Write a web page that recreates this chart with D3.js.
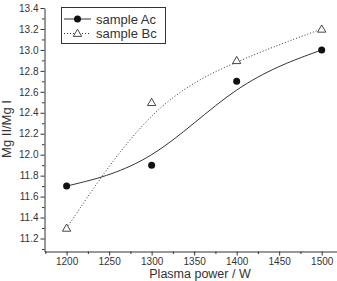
<!DOCTYPE html>
<html><head><meta charset="utf-8">
<script src="https://cdn.jsdelivr.net/npm/d3@7"></script>
<style>
body{margin:0;background:#fff;}
svg{display:block;}
text{font-family:"Liberation Sans",Arial,sans-serif;fill:#333;}
</style></head>
<body>
<svg id="c" width="337" height="281"></svg>
<script>
const power = [1200, 1300, 1400, 1500];
const sampleAc = [11.7, 11.9, 12.7, 13.0];
const sampleBc = [11.3, 12.5, 12.9, 13.2];
const xTicks = [1200, 1250, 1300, 1350, 1400, 1450, 1500];
const yTicks = [11.2, 11.4, 11.6, 11.8, 12.0, 12.2, 12.4, 12.6, 12.8, 13.0, 13.2, 13.4];
const seriesNames = ["sample Ac", "sample Bc"];

const svg = d3.select("#c");
const x = d3.scaleLinear().domain([1174, 1518]).range([44.5, 337]);
const y = d3.scaleLinear().domain([11.076, 13.4]).range([251.5, 8]);
const ink = "#333";

// x axis
const xMinor = d3.range(1175, 1525, 25).filter(v => v % 50 !== 0);
svg.append("g").attr("transform", "translate(0,251.5)")
  .call(d3.axisBottom(x).tickValues(xMinor).tickSize(2.5).tickFormat("").tickSizeOuter(0))
  .call(g => g.select(".domain").remove())
  .call(g => g.selectAll("line").attr("stroke", ink));
svg.append("g").attr("transform", "translate(0,251.5)")
  .call(d3.axisBottom(x).tickValues(xTicks).tickSize(4).tickPadding(2).tickFormat(d3.format("d")).tickSizeOuter(0))
  .call(g => g.select(".domain").attr("stroke", ink))
  .call(g => g.selectAll("line").attr("stroke", ink))
  .call(g => g.selectAll("text").attr("font-size", 10).attr("font-family", "Liberation Sans, Arial, sans-serif").attr("fill", ink));

// y axis
const yMinor = d3.range(11.1, 13.35, 0.2).map(v => +v.toFixed(1));
svg.append("g").attr("transform", "translate(44.5,0)")
  .call(d3.axisLeft(y).tickValues(yMinor).tickSize(2.5).tickFormat("").tickSizeOuter(0))
  .call(g => g.select(".domain").remove())
  .call(g => g.selectAll("line").attr("stroke", ink));
svg.append("g").attr("transform", "translate(44.5,0)")
  .call(d3.axisLeft(y).tickValues(yTicks).tickSize(4).tickPadding(2).tickFormat(d3.format(".1f")).tickSizeOuter(0))
  .call(g => g.select(".domain").attr("stroke", ink))
  .call(g => g.selectAll("line").attr("stroke", ink))
  .call(g => g.selectAll("text").attr("font-size", 10).attr("font-family", "Liberation Sans, Arial, sans-serif").attr("fill", ink));

// axis titles
svg.append("text").attr("x", 200).attr("y", 278.3).attr("text-anchor", "middle")
  .attr("font-size", 12.5).text("Plasma power / W");
svg.append("text").attr("transform", "translate(11,129) rotate(-90)").attr("text-anchor", "middle")
  .attr("font-size", 13).text("Mg II/Mg I");

// curves
const line = d3.line().x(d => x(d[0])).y(d => y(d[1])).curve(d3.curveBasis);
const dataAc = power.map((p, i) => [p, sampleAc[i]]);
const dataBc = power.map((p, i) => [p, sampleBc[i]]);
svg.append("path").datum(dataAc).attr("d", line).attr("fill", "none").attr("stroke", ink).attr("stroke-width", 1);
svg.append("path").datum(dataBc).attr("d", line).attr("fill", "none").attr("stroke", ink).attr("stroke-width", 1).attr("stroke-dasharray", "1,2");

// markers
const tri = d3.symbol().type(d3.symbolTriangle).size(30);
svg.selectAll("circle.ac").data(dataAc).join("circle").attr("class", "ac")
  .attr("cx", d => x(d[0])).attr("cy", d => y(d[1])).attr("r", 3.5).attr("fill", "#111");
svg.selectAll("path.bc").data(dataBc).join("path").attr("class", "bc")
  .attr("d", tri).attr("transform", d => `translate(${x(d[0])},${y(d[1]) + 0.8})`)
  .attr("fill", "#fff").attr("stroke", ink).attr("stroke-width", 0.9);

// legend
const lg = svg.append("g");
lg.append("rect").attr("x", 61.5).attr("y", 7.5).attr("width", 104).attr("height", 36)
  .attr("fill", "#fff").attr("stroke", ink).attr("stroke-width", 1);
seriesNames.forEach((name, i) => {
  const ly = 19 + i * 14.5;
  lg.append("line").attr("x1", 64).attr("x2", 91).attr("y1", ly).attr("y2", ly)
    .attr("stroke", ink).attr("stroke-width", 1).attr("stroke-dasharray", i === 0 ? null : "1,2");
  if (i === 0) lg.append("circle").attr("cx", 77.5).attr("cy", ly).attr("r", 3.5).attr("fill", "#111");
  else lg.append("path").attr("d", tri).attr("transform", `translate(77.5,${ly + 0.5})`)
    .attr("fill", "#fff").attr("stroke", ink).attr("stroke-width", 0.9);
  lg.append("text").attr("x", 96).attr("y", ly + 4.5).attr("font-size", 13).text(name);
});
</script>
</body></html>
